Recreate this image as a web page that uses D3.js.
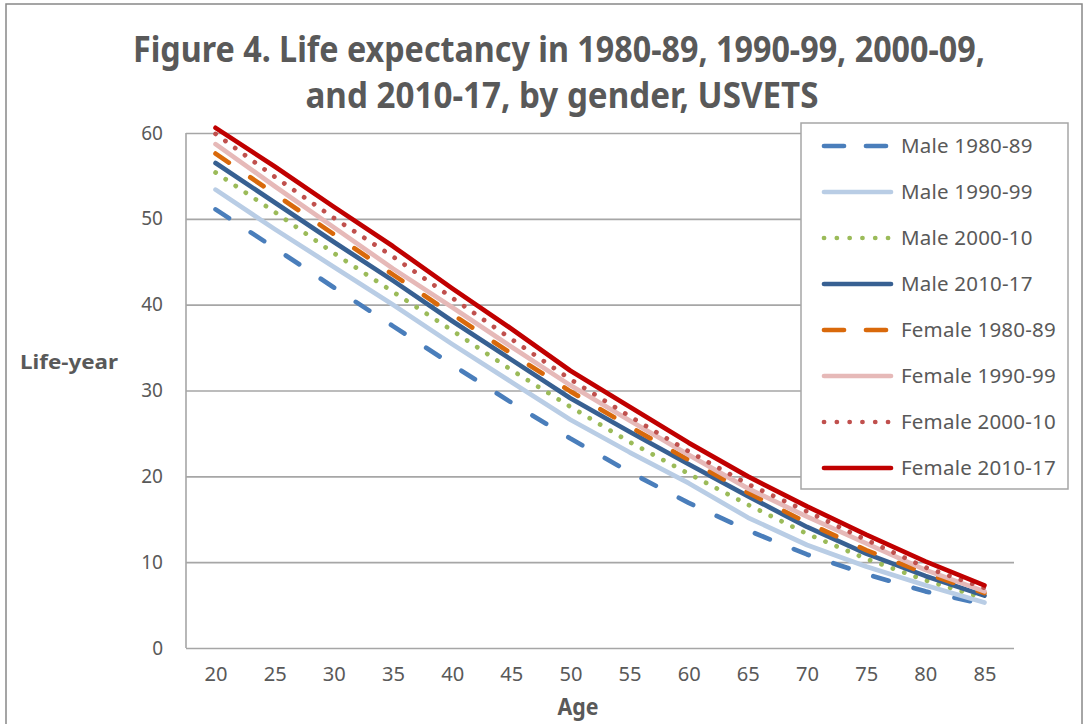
<!DOCTYPE html>
<html>
<head>
<meta charset="utf-8">
<script src="https://cdn.jsdelivr.net/npm/d3@7"></script>
<style>
  body { margin: 0; background: #fff; }
  text { font-family: "Noto Sans", "Open Sans", sans-serif; fill: #595959; }
</style>
</head>
<body>
<svg id="chart"></svg>
<script>
// ages on the x axis
const ages = [20, 25, 30, 35, 40, 45, 50, 55, 60, 65, 70, 75, 80, 85];
const yTicks = [0, 10, 20, 30, 40, 50, 60];

// life expectancy (years)
const male8089   = [51.1, 46.6, 42.0, 37.5, 33.0, 28.6, 24.4, 20.5, 16.9, 13.7, 10.9, 8.6, 6.6, 5.1];
const male9099   = [53.4, 48.8, 44.4, 40.0, 35.4, 31.0, 26.6, 22.8, 19.2, 15.2, 12.0, 9.5, 7.3, 5.3];
const male0010   = [55.4, 50.8, 46.0, 41.5, 37.0, 32.4, 28.1, 24.0, 20.3, 16.7, 13.3, 10.4, 7.9, 5.8];
const male1017   = [56.5, 51.9, 47.3, 42.8, 38.1, 33.6, 29.1, 25.2, 21.4, 17.7, 14.1, 11.0, 8.4, 6.1];
const female8089 = [57.6, 52.9, 48.2, 43.5, 38.9, 34.3, 29.9, 25.8, 21.9, 18.1, 14.6, 11.4, 8.7, 6.4];
const female9099 = [58.7, 53.8, 49.0, 44.2, 39.7, 35.1, 30.6, 26.5, 22.5, 18.6, 15.3, 12.2, 9.1, 6.6];
const female0010 = [59.9, 54.9, 50.1, 45.6, 40.8, 36.0, 31.3, 27.0, 22.9, 19.1, 15.9, 12.6, 9.4, 7.0];
const female1017 = [60.6, 56.1, 51.4, 46.8, 41.9, 37.2, 32.3, 28.1, 23.9, 20.0, 16.5, 13.2, 10.1, 7.3];

const seriesNames = ["Male 1980-89", "Male 1990-99", "Male 2000-10", "Male 2010-17",
                     "Female 1980-89", "Female 1990-99", "Female 2000-10", "Female 2010-17"];
const seriesValues = [male8089, male9099, male0010, male1017,
                      female8089, female9099, female0010, female1017];
const seriesColors = ["#4a7ebb", "#b9cde5", "#9bbb59", "#376092",
                      "#d9690b", "#e6b9b8", "#c0504d", "#c00000"];
// "" = solid
const seriesDash = ["16 26", "", "0.1 12", "", "16 26", "", "0.1 12", ""];

const svgWidth = 1089;
const svgHeight = 724;
const margin = { top: 133, right: 75, bottom: 76, left: 186 };
const width = svgWidth - margin.left - margin.right;
const height = svgHeight - margin.top - margin.bottom;

const svg = d3.select("#chart")
  .attr("width", svgWidth)
  .attr("height", svgHeight);

// outer frame of the chart object
svg.append("rect")
  .attr("x", 6).attr("y", 4)
  .attr("width", 1076).attr("height", 740)
  .attr("fill", "#fff")
  .attr("stroke", "#888")
  .attr("stroke-width", 1.5);

// title, squeezed to the width of the original (narrow) text
svg.append("text")
  .attr("x", 559).attr("y", 62)
  .attr("text-anchor", "middle")
  .attr("font-size", 36).attr("font-weight", "bold")
  .attr("textLength", 852).attr("lengthAdjust", "spacingAndGlyphs")
  .text("Figure 4. Life expectancy in 1980-89, 1990-99, 2000-09,");
svg.append("text")
  .attr("x", 562).attr("y", 108)
  .attr("text-anchor", "middle")
  .attr("font-size", 36).attr("font-weight", "bold")
  .attr("textLength", 513).attr("lengthAdjust", "spacingAndGlyphs")
  .text("and 2010-17, by gender, USVETS");

const chart = svg.append("g")
  .attr("transform", "translate(" + margin.left + "," + margin.top + ")");

const xScale = d3.scalePoint()
  .domain(ages)
  .range([0, width])
  .padding(0.5);

const yScale = d3.scaleLinear()
  .domain([0, 60])
  .range([height, 0]);

// gridlines
chart.append("g")
  .attr("class", "grid")
  .call(d3.axisLeft(yScale).tickValues(yTicks).tickSize(-width).tickFormat(""))
  .call(g => g.select(".domain").remove())
  .selectAll("line")
  .attr("stroke", "#a6a6a6")
  .attr("stroke-width", 1.6);

// left axis line
chart.append("line")
  .attr("x1", 0).attr("x2", 0)
  .attr("y1", 0).attr("y2", height)
  .attr("stroke", "#a6a6a6")
  .attr("stroke-width", 1.6);

// y tick labels
const yAxis = chart.append("g")
  .call(d3.axisLeft(yScale).tickValues(yTicks).tickSize(0).tickPadding(23));
yAxis.select(".domain").remove();
yAxis.selectAll("text")
  .attr("font-size", 19)
  .attr("font-family", "\"Noto Sans\", sans-serif")
  .attr("fill", "#595959");

// x tick labels (narrow like the original)
const xAxis = chart.append("g")
  .attr("transform", "translate(0," + height + ")")
  .call(d3.axisBottom(xScale).tickSize(0).tickPadding(20));
xAxis.select(".domain").remove();
xAxis.selectAll("text")
  .attr("font-size", 19)
  .attr("font-family", "\"Noto Sans\", sans-serif")
  .attr("fill", "#595959")
  .attr("textLength", 23)
  .attr("lengthAdjust", "spacingAndGlyphs");

// axis titles
svg.append("text")
  .attr("x", 578).attr("y", 715)
  .attr("text-anchor", "middle")
  .attr("font-size", 23).attr("font-weight", "bold")
  .attr("textLength", 41).attr("lengthAdjust", "spacingAndGlyphs")
  .text("Age");
svg.append("text")
  .attr("x", 20).attr("y", 369)
  .attr("font-size", 20).attr("font-weight", "bold")
  .attr("textLength", 98).attr("lengthAdjust", "spacingAndGlyphs")
  .text("Life-year");

// lines
const line = d3.line()
  .x((d, i) => xScale(ages[i]))
  .y(d => yScale(d));

seriesValues.forEach(function (values, k) {
  chart.append("path")
    .datum(values)
    .attr("fill", "none")
    .attr("stroke", seriesColors[k])
    .attr("stroke-width", 4.7)
    .attr("stroke-linecap", "round")
    .attr("stroke-linejoin", "round")
    .attr("stroke-dasharray", seriesDash[k] || null)
    .attr("d", line);
});

// legend
const legend = svg.append("g");
legend.append("rect")
  .attr("x", 801).attr("y", 123)
  .attr("width", 267).attr("height", 366)
  .attr("fill", "#fff")
  .attr("stroke", "#a6a6a6")
  .attr("stroke-width", 1.5);

seriesNames.forEach(function (name, k) {
  const cy = 146 + k * 46;
  legend.append("line")
    .attr("x1", 824).attr("x2", 891)
    .attr("y1", cy).attr("y2", cy)
    .attr("stroke", seriesColors[k])
    .attr("stroke-width", 4.7)
    .attr("stroke-linecap", "round")
    .attr("stroke-dasharray", seriesDash[k] === "16 26" ? "20 22" : (seriesDash[k] ? "0.1 12.7" : null));
  legend.append("text")
    .attr("x", 901).attr("y", cy + 7)
    .attr("font-size", 20.5)
    .attr("letter-spacing", 0.2)
    .text(name);
});
</script>
</body>
</html>
